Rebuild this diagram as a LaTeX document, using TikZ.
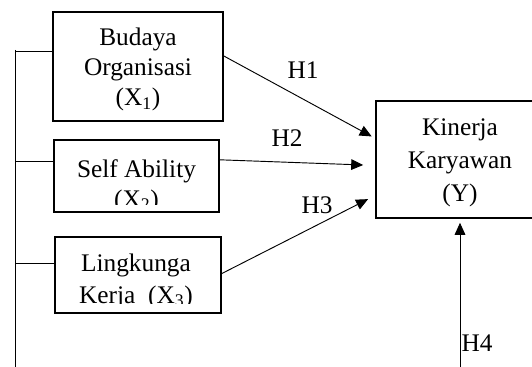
\documentclass[tikz,border=0pt]{standalone}
\usepackage{fontspec}
\setmainfont{Liberation Serif}
\usetikzlibrary{arrows.meta,positioning}

\begin{document}
\begin{tikzpicture}[
  x=0.75pt, y=-0.75pt,
  font=\fontsize{19}{22.5}\selectfont, >={Triangle[length=9pt,width=8pt]},
  varbox/.style={rectangle, draw=black, line width=1.2pt, inner sep=0pt},
  boxtext/.style={align=center, inner sep=0pt, anchor=north},
  link/.style={->, line width=0.7pt},
  hyp/.style={inner sep=0pt}
]
\clip (0,0) rectangle (532,367);

% variabel bebas
\node[varbox, minimum width=127.5pt, minimum height=81.75pt] (b1) at (138,66.5) {};
\node[varbox, minimum width=123.75pt, minimum height=54pt] (b2) at (136.5,176) {};
\node[varbox, minimum width=124.5pt, minimum height=57pt] (b3) at (138,275) {};
\node[boxtext] (t1) at (138,28) {Budaya\\Organisasi\\(X\textsubscript{1})};
\begin{scope}
  \clip (b2.north west) rectangle ([yshift=6pt]b2.south east);
  \node[boxtext] (t2) at (136.5,159) {Self Ability\\(X\textsubscript{2})};
\end{scope}
\begin{scope}
  \clip (b3.north west) rectangle ([yshift=8pt]b3.south east);
  \node[boxtext, font=\fontsize{19}{23.5}\selectfont] (t3) at (136,254) {Lingkunga\\Kerja~~(X\textsubscript{3})};
\end{scope}

% variabel terikat
\node[varbox, minimum width=126pt, minimum height=87.75pt] (ky) at (460,159.5) {};
\node[boxtext, font=\fontsize{19}{24.75}\selectfont] (ty) at (460,118) {Kinerja\\Karyawan\\(Y)};

% garis kiri
\coordinate (spine top) at (15,50);
\coordinate (spine end) at (15,367);
\coordinate (k1) at (15,51);
\coordinate (k2) at (15,161);
\coordinate (k3) at (15,263);
\draw[line width=0.7pt] (spine top) -- (spine end);
\draw[line width=0.7pt] (k1) -- (k1 -| b1.west);
\draw[line width=0.7pt] (k2) -- (k2 -| b2.west);
\draw[line width=0.7pt] (k3) -- (k3 -| b3.west);

% hipotesis
\draw[link, shorten >=3pt] (b1.7.7) -- (ky.166);
\draw[link, shorten >=9pt] (b2.11.6) -- (ky.184);
\draw[link, shorten >=6pt] (b3.1) -- (ky.203.8);
\coordinate (h4 foot) at (460,367);
\draw[link, shorten >=3pt] (h4 foot) -- (ky.south);

\node[hyp] (h1) at (303,70) {H1};
\node[hyp] (h2) at (287,138) {H2};
\node[hyp] (h3) at (317,205) {H3};
\node[hyp] (h4) at (477,343) {H4};
\end{tikzpicture}
\end{document}
